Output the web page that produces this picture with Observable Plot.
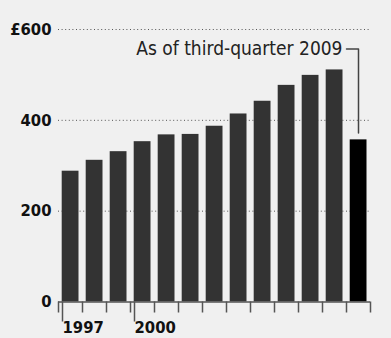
<!DOCTYPE html>
<html>
<head>
<meta charset="utf-8">
<script src="https://cdn.jsdelivr.net/npm/d3@7"></script>
<script src="https://cdn.jsdelivr.net/npm/@observablehq/plot@0.6"></script>
<style>
  html, body { margin: 0; padding: 0; background: #f0f0f0; }
  #chart svg { display: block; }
</style>
</head>
<body>
<div id="chart"></div>
<script>
const years = [1997, 1998, 1999, 2000, 2001, 2002, 2003, 2004, 2005, 2006, 2007, 2008, 2009];
const values = [288, 312, 331, 353, 368, 369, 387, 414, 442, 477, 499, 511, 357];
const highlightYear = 2009;
const yTicks = [0, 200, 400, 600];
const yTickLabels = ["0", "200", "400", "£600"];
const labelledYears = [1997, 2000];
const annotationText = "As of third-quarter 2009";
const annotationLevel = 557;

const FONT = "'Liberation Sans Narrow', 'DejaVu Sans Condensed', sans-serif";
const data = years.map((year, i) => ({year, value: values[i]}));
const hl = data.find(d => d.year === highlightYear);

const chart = Plot.plot({
  width: 391,
  height: 338,
  marginLeft: 58,
  marginRight: 21,
  marginTop: 29,
  marginBottom: 36.5,
  style: {background: "#f0f0f0", fontFamily: FONT},
  x: {type: "linear", domain: [years[0], years[years.length - 1] + 1], axis: null},
  y: {domain: [0, 600], axis: null},
  color: {type: "identity"},
  marks: [
    Plot.gridY(yTicks.filter(d => d > 0), {stroke: "#555", strokeOpacity: 1, strokeDasharray: "1,2.6", strokeWidth: 1}),
    Plot.axisY(yTicks, {
      tickSize: 0, tickPadding: 7,
      tickFormat: d => yTickLabels[yTicks.indexOf(d)],
      fontSize: 16.5, fontWeight: "bold", fill: "#111"
    }),
    Plot.rectY(data, {
      x1: "year", x2: d => d.year + 1, y: "value",
      insetLeft: 3.7, insetRight: 3.5,
      fill: d => d.year === highlightYear ? "#000" : "#333"
    }),
    Plot.ruleY([0], {stroke: "#555", strokeWidth: 1.5}),
    Plot.axisX(d3.range(years[0], years[years.length - 1] + 2), {
      tickSize: 11, tickFormat: () => "", stroke: "#555", strokeWidth: 1.5
    }),
    Plot.axisX(labelledYears, {
      tickSize: 20, tickPadding: -1, stroke: "#555", strokeWidth: 1.5,
      tickFormat: d => String(d), textAnchor: "start", dx: 4,
      fontSize: 16.5, fontWeight: "bold", fill: "#111"
    }),
    Plot.line([
      {x: hl.year, y: annotationLevel},
      {x: hl.year + 0.5, y: annotationLevel},
      {x: hl.year + 0.5, y: hl.value + 15}
    ], {x: "x", y: "y", stroke: "#444", strokeWidth: 1.5, curve: "linear"}),
    Plot.text([{x: hl.year, y: annotationLevel}], {
      x: "x", y: "y", text: () => annotationText, textAnchor: "end", dx: -4,
      fontSize: 19, fill: "#222"
    })
  ]
});
document.getElementById("chart").append(chart);
</script>
</body>
</html>
